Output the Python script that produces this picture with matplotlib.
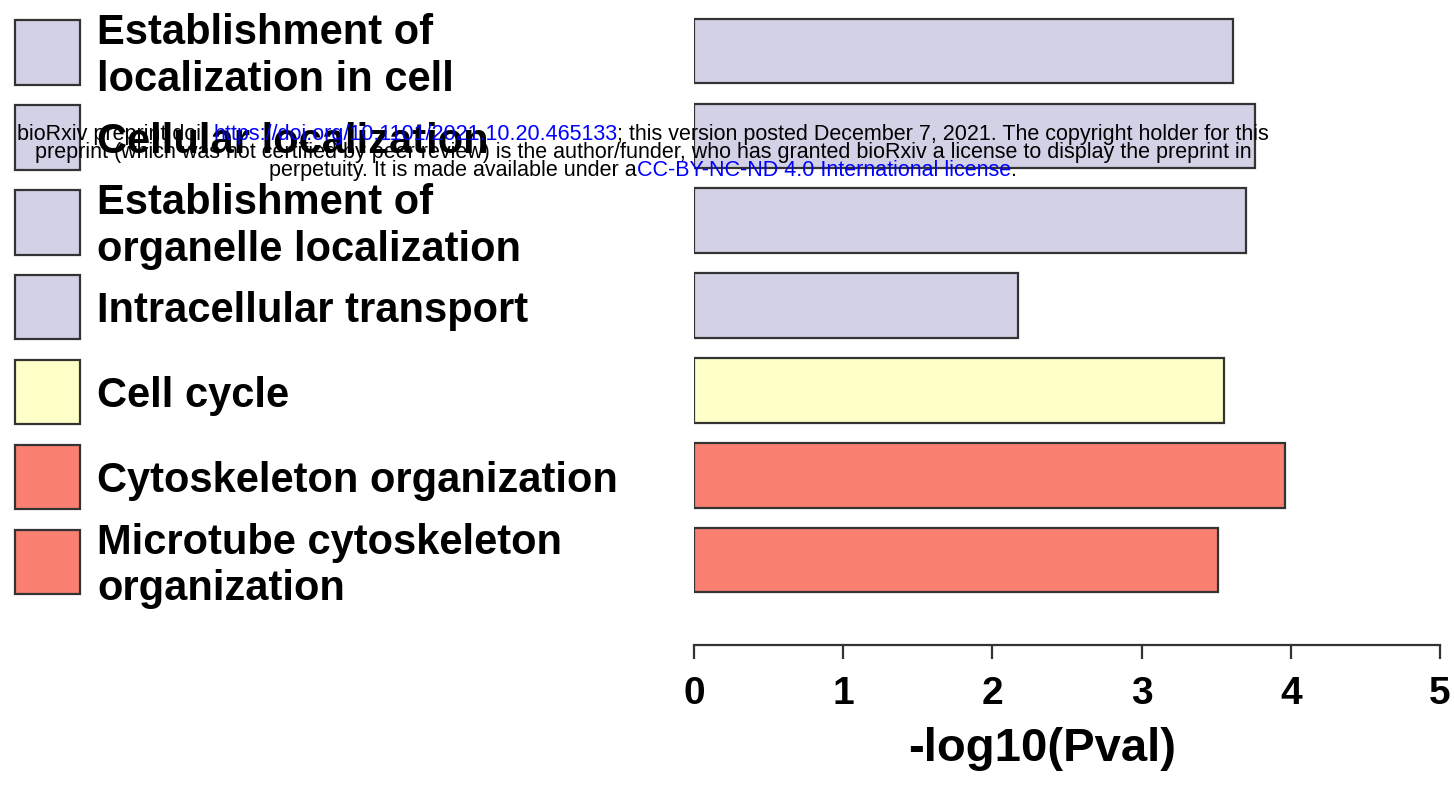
import matplotlib
matplotlib.use("Agg")
import matplotlib.pyplot as plt
from matplotlib.patches import Rectangle

categories = [
    "Establishment of\nlocalization in cell",
    "Cellular localization",
    "Establishment of\norganelle localization",
    "Intracellular transport",
    "Cell cycle",
    "Cytoskeleton organization",
    "Microtube cytoskeleton\norganization",
]
values = [3.61, 3.76, 3.70, 2.17, 3.55, 3.96, 3.51]
colors = ["#d3d1e6", "#d3d1e6", "#d3d1e6", "#d3d1e6", "#ffffc8", "#fa8072", "#fa8072"]
xticks = [0, 1, 2, 3, 4, 5]
xlabel = "-log10(Pval)"

W, H = 1454, 785
fig = plt.figure(figsize=(W / 100, H / 100), dpi=100)
fig.patch.set_facecolor("white")

font = "Liberation Sans"
edge = "#333333"

ax_left, ax_bottom = 694 / W, (H - 645) / H
ax = fig.add_axes([ax_left, ax_bottom, 1440 / W - ax_left, 1 - ax_bottom])
pos = list(range(len(categories)))
ax.barh(pos, values, height=0.76, color=colors, edgecolor=edge, linewidth=1.6)
ax.set_ylim(7.0, -0.6)
ax.set_xlim(0, 5)
for s in ["left", "right", "top"]:
    ax.spines[s].set_visible(False)
ax.spines["bottom"].set_linewidth(1.6)
ax.spines["bottom"].set_color(edge)
ax.set_yticks([])
ax.set_xticks(xticks)
ax.set_xticklabels([str(t) for t in xticks], fontfamily=font, fontweight="bold", fontsize=28)
ax.tick_params(axis="x", direction="out", length=10, width=1.6, color=edge, pad=12)
ax.set_xlabel(xlabel, fontfamily=font, fontweight="bold", fontsize=34)
ax.xaxis.set_label_coords(0.466, -0.127)

# legend on the left
lg = fig.add_axes([0, ax_bottom, ax_left, 1 - ax_bottom])
lg.set_xlim(0, 694)
lg.set_ylim(7.0, -0.6)
lg.axis("off")
for i, (c, col) in enumerate(zip(categories, colors)):
    lg.add_patch(Rectangle((15, i + 0.02 - 0.38), 65, 0.76, facecolor=col,
                           edgecolor=edge, linewidth=1.6))
    lg.text(97, i + 0.07, c, fontfamily=font, fontweight="bold", fontsize=30,
            va="center", ha="left", linespacing=1.22)

# bioRxiv watermark
lines = [
    [("bioRxiv preprint doi: ", "black"),
     ("https://doi.org/10.1101/2021.10.20.465133", "#0000ff"),
     ("; this version posted December 7, 2021. The copyright holder for this", "black")],
    [("preprint (which was not certified by peer review) is the author/funder, who has granted bioRxiv a license to display the preprint in", "black")],
    [("perpetuity. It is made available under a", "black"),
     ("CC-BY-NC-ND 4.0 International license", "#0000ff"),
     (".", "black")],
]
line_y = [140, 158, 176]
cx = 643
renderer = fig.canvas.get_renderer()
for segs, yb in zip(lines, line_y):
    texts = []
    for s, col in segs:
        t = fig.text(0, 1 - yb / H, s, color=col, fontsize=15.5, fontfamily=font,
                     ha="left", va="baseline")
        texts.append(t)
    widths = [t.get_window_extent(renderer).width for t in texts]
    x = cx - sum(widths) / 2
    for t, w in zip(texts, widths):
        t.set_x(x / W)
        x += w

fig.savefig("out.png", dpi=100, facecolor="white")
